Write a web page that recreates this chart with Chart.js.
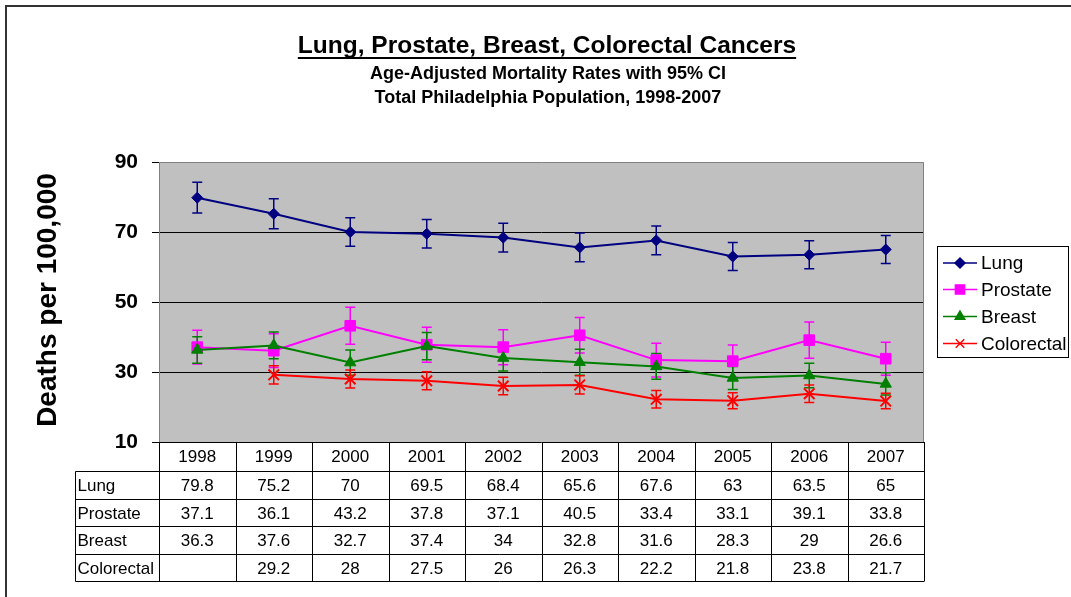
<!DOCTYPE html>
<html lang="en">
<head>
<meta charset="UTF-8">
<title>Lung, Prostate, Breast, Colorectal Cancers</title>
<script src="https://cdn.jsdelivr.net/npm/chart.js@4.4.0/dist/chart.umd.min.js"></script>
<style>
  body { margin: 0; background: #fff; }
  #wrap { width: 1071px; height: 597px; }
</style>
</head>
<body>
<div id="wrap"><canvas id="chart" width="1071" height="597"></canvas></div>

<script>
    // data
    const years = ['1998', '1999', '2000', '2001', '2002', '2003', '2004', '2005', '2006', '2007'];
    const seriesNames = ['Lung', 'Prostate', 'Breast', 'Colorectal'];

    const lung = [79.8, 75.2, 70, 69.5, 68.4, 65.6, 67.6, 63, 63.5, 65];
    const prostate = [37.1, 36.1, 43.2, 37.8, 37.1, 40.5, 33.4, 33.1, 39.1, 33.8];
    const breast = [36.3, 37.6, 32.7, 37.4, 34, 32.8, 31.6, 28.3, 29, 26.6];
    const colorectal = [null, 29.2, 28, 27.5, 26, 26.3, 22.2, 21.8, 23.8, 21.7];

    // half width of the 95% CI (estimated from the error bars)
    const lungCI = [4.4, 4.3, 4.1, 4.1, 4.1, 4.1, 4.1, 4.0, 4.0, 4.0];
    const prostateCI = [4.8, 4.8, 5.3, 5.0, 5.0, 5.1, 4.8, 4.6, 5.2, 4.7];
    const breastCI = [3.8, 3.8, 3.6, 3.9, 3.7, 3.7, 3.7, 3.3, 3.5, 3.2];
    const colorectalCI = [null, 2.6, 2.6, 2.6, 2.5, 2.6, 2.5, 2.3, 2.5, 2.2];

    const yTicks = [10, 30, 50, 70, 90];

    const FONT = "'Liberation Sans', Arial, sans-serif";
    const allData = [lung, prostate, breast, colorectal];
    const allCI = [lungCI, prostateCI, breastCI, colorectalCI];
    const colors = ['#000080', '#ff00ff', '#008000', '#ff0000'];
    const styles = ['rectRot', 'rect', 'triangle', 'crossRot'];
    const radii = [5.5, 7.5, 6.5, 7.5];
    const legRadii = [5, 6.5, 5.5, 6];

    const excelLook = {
        id: 'excelLook',
        beforeDraw(chart) {
            const ctx = chart.ctx, a = chart.chartArea;
            ctx.save();
            ctx.fillStyle = '#fff';
            ctx.fillRect(0, 0, chart.width, chart.height);
            // outer frame of the chart object
            ctx.strokeStyle = '#333';
            ctx.lineWidth = 2;
            ctx.strokeRect(6, 6, chart.width + 20, chart.height + 20);
            // grey plot area
            ctx.fillStyle = '#c0c0c0';
            ctx.fillRect(a.left, a.top, a.right - a.left, a.bottom - a.top);
            ctx.restore();
        },
        beforeDatasetsDraw(chart) {
            // error bars
            const ctx = chart.ctx, ys = chart.scales.y;
            ctx.save();
            ctx.lineWidth = 1.5;
            for (let i = 0; i < allData.length; i++) {
                const meta = chart.getDatasetMeta(i);
                ctx.strokeStyle = colors[i];
                for (let j = 0; j < years.length; j++) {
                    const v = allData[i][j], e = allCI[i][j];
                    if (v == null || e == null) continue;
                    const x = meta.data[j].x;
                    const t = ys.getPixelForValue(v + e), b = ys.getPixelForValue(v - e);
                    ctx.beginPath();
                    ctx.moveTo(x, t); ctx.lineTo(x, b);
                    ctx.moveTo(x - 5, t); ctx.lineTo(x + 5, t);
                    ctx.moveTo(x - 5, b); ctx.lineTo(x + 5, b);
                    ctx.stroke();
                }
            }
            ctx.restore();
        },
        afterDraw(chart) {
            const ctx = chart.ctx, a = chart.chartArea, xs = chart.scales.x;
            ctx.save();

            // plot border
            ctx.strokeStyle = '#808080';
            ctx.lineWidth = 1;
            ctx.beginPath();
            ctx.moveTo(a.left + 0.5, a.bottom);
            ctx.lineTo(a.left + 0.5, a.top + 0.5);
            ctx.lineTo(a.right - 0.5, a.top + 0.5);
            ctx.lineTo(a.right - 0.5, a.bottom);
            ctx.stroke();

            // titles
            ctx.fillStyle = '#000';
            ctx.textAlign = 'center';
            ctx.textBaseline = 'middle';
            ctx.font = 'bold 24.5px ' + FONT;
            const title = 'Lung, Prostate, Breast, Colorectal Cancers';
            ctx.fillText(title, 547, 46);
            const tw = ctx.measureText(title).width;
            ctx.strokeStyle = '#000';
            ctx.lineWidth = 2;
            ctx.beginPath();
            ctx.moveTo(547 - tw / 2, 58);
            ctx.lineTo(547 + tw / 2, 58);
            ctx.stroke();
            ctx.font = 'bold 18px ' + FONT;
            ctx.fillText('Age-Adjusted Mortality Rates with 95% CI', 548, 74);
            ctx.fillText('Total Philadelphia Population, 1998-2007', 548, 98);

            // y axis title
            ctx.save();
            ctx.translate(48, 300);
            ctx.rotate(-Math.PI / 2);
            ctx.font = 'bold 28px ' + FONT;
            ctx.fillText('Deaths per 100,000', 0, 0);
            ctx.restore();

            // data table
            const colW = (a.right - a.left) / years.length;
            const tLeft = 75.5;
            const rowY = [a.bottom, 471.5, 499.5, 526.5, 554.5, 581.5];
            ctx.strokeStyle = '#000';
            ctx.lineWidth = 1;
            ctx.beginPath();
            ctx.moveTo(a.left, a.bottom + 0.5);
            ctx.lineTo(a.right, a.bottom + 0.5);
            for (let r = 1; r < rowY.length; r++) {
                ctx.moveTo(tLeft, rowY[r]);
                ctx.lineTo(a.right, rowY[r]);
            }
            ctx.moveTo(tLeft, rowY[1]);
            ctx.lineTo(tLeft, rowY[5]);
            for (let c = 0; c <= years.length; c++) {
                const x = Math.round(a.left + c * colW) + 0.5;
                ctx.moveTo(x, a.bottom);
                ctx.lineTo(x, rowY[5]);
            }
            ctx.stroke();

            ctx.font = '17px ' + FONT;
            ctx.textAlign = 'center';
            for (let j = 0; j < years.length; j++) {
                const cx = xs.getPixelForValue(j);
                ctx.fillText(years[j], cx, (rowY[0] + rowY[1]) / 2 + 1);
                for (let i = 0; i < allData.length; i++) {
                    const v = allData[i][j];
                    if (v == null) continue;
                    ctx.fillText(String(v), cx, (rowY[i + 1] + rowY[i + 2]) / 2 + 1);
                }
            }
            ctx.textAlign = 'left';
            for (let i = 0; i < seriesNames.length; i++) {
                ctx.fillText(seriesNames[i], tLeft + 2, (rowY[i + 1] + rowY[i + 2]) / 2 + 1);
            }

            // legend
            ctx.strokeStyle = '#000';
            ctx.lineWidth = 1;
            ctx.strokeRect(937.5, 246.5, 131, 111);
            const legY = [263, 289.5, 316.5, 343.5];
            ctx.font = '19px ' + FONT;
            for (let i = 0; i < seriesNames.length; i++) {
                ctx.strokeStyle = colors[i];
                ctx.fillStyle = colors[i];
                ctx.lineWidth = 1.5;
                ctx.beginPath();
                ctx.moveTo(943, legY[i]);
                ctx.lineTo(977, legY[i]);
                ctx.stroke();
                Chart.helpers.drawPoint(ctx, {
                    pointStyle: styles[i], radius: legRadii[i], rotation: 0, borderWidth: 1.5
                }, 960, legY[i]);
                ctx.fillStyle = '#000';
                ctx.fillText(seriesNames[i], 981, legY[i] + 1);
            }
            ctx.restore();
        }
    };

    const datasets = seriesNames.map((name, i) => ({
        label: name,
        data: allData[i],
        borderColor: colors[i],
        backgroundColor: colors[i],
        borderWidth: 2,
        pointStyle: styles[i],
        pointRadius: radii[i],
        pointBorderWidth: i === 3 ? 2 : 1,
        tension: 0,
        order: 4 - i
    }));

    new Chart(document.getElementById('chart'), {
        type: 'line',
        data: { labels: years, datasets: datasets },
        options: {
            responsive: false,
            devicePixelRatio: 1,
            animation: false,
            events: [],
            layout: { padding: { left: 0, top: 162, right: 147, bottom: 155 } },
            plugins: { legend: { display: false }, tooltip: { enabled: false } },
            scales: {
                x: { display: false, offset: true },
                y: {
                    min: 10,
                    max: 90,
                    afterFit(s) { s.width = 159; },
                    afterBuildTicks(s) { s.ticks = yTicks.map(v => ({ value: v })); },
                    border: { display: false },
                    grid: {
                        color: c => (c.tick && c.tick.value > 10 && c.tick.value < 90) ? '#000' : 'rgba(0,0,0,0)',
                        tickColor: '#000',
                        tickLength: 7,
                        lineWidth: 1
                    },
                    ticks: {
                        padding: 14,
                        color: '#000',
                        font: { family: FONT, size: 21, weight: 'bold' }
                    }
                }
            }
        },
        plugins: [excelLook]
    });
</script>
</body>
</html>
